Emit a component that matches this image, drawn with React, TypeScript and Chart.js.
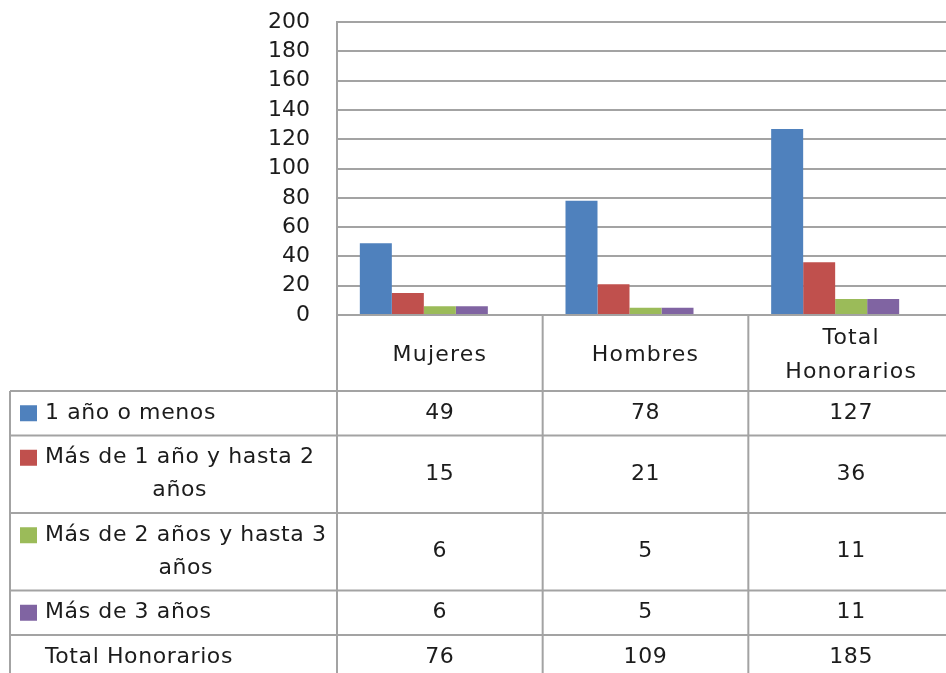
import React, { useEffect, useRef } from "react";
import { Chart, registerables } from "chart.js";

Chart.register(...registerables);

// ---- data ----
const categories = ["Mujeres", "Hombres", "Total Honorarios"];
const seriesNames = [
  "1 año o menos",
  "Más de 1 año y hasta 2 años",
  "Más de 2 años y hasta 3 años",
  "Más de 3 años",
  "Total Honorarios",
];
const unAnoOMenos = [49, 78, 127];
const masDe1Hasta2 = [15, 21, 36];
const masDe2Hasta3 = [6, 5, 11];
const masDe3 = [6, 5, 11];
const totalHonorarios = [76, 109, 185];
const yMin = 0;
const yMax = 200;
const yStep = 20;

// ---- styles ----
const seriesColors = ["#4F81BD", "#C0504D", "#9BBB59", "#8064A2", "rgba(0,0,0,0)"];
const showKey = [true, true, true, true, false];
const LINE = "#a3a3a3";
const TEXT = "#1c1c1c";
const FONT = '22px "DejaVu Sans"';

function wrap(ctx: CanvasRenderingContext2D, text: string, maxW: number): string[] {
  const words = text.split(" ");
  const lines: string[] = [];
  let cur = "";
  for (const w of words) {
    const t = cur ? cur + " " + w : w;
    if (ctx.measureText(t).width > maxW && cur) {
      lines.push(cur);
      cur = w;
    } else cur = t;
  }
  if (cur) lines.push(cur);
  return lines;
}

const tablePlugin = {
  id: "dataTable",
  afterDraw(chart: any) {
    const ctx: CanvasRenderingContext2D = chart.ctx;
    const area = chart.chartArea;
    const xs = chart.scales.x;
    const H = chart.height;
    const W = chart.width;
    const catW = (area.right - area.left) / categories.length;
    const tableLeft = 10;
    const headerBottom = 391;
    const keyX = 20;
    const textX = 45;
    const labelMax = 288;

    ctx.save();
    ctx.font = FONT;
    (ctx as any).letterSpacing = "0.6px";

    // compute rows
    const rowLines = seriesNames.map((n) => wrap(ctx, n, labelMax));
    const rowTops: number[] = [];
    let y = headerBottom;
    rowLines.forEach((l) => {
      rowTops.push(y);
      y += l.length > 1 ? 77.5 : 44.5;
    });

    // lines
    ctx.strokeStyle = LINE;
    ctx.lineWidth = 2;
    ctx.beginPath();
    ctx.moveTo(area.left, area.bottom);
    ctx.lineTo(area.left, H);
    categories.forEach((_, i) => {
      const x = xs.getPixelForValue(i) + catW / 2;
      ctx.moveTo(x, area.bottom);
      ctx.lineTo(x, H);
    });
    rowTops.forEach((t) => {
      ctx.moveTo(tableLeft, t);
      ctx.lineTo(W, t);
    });
    ctx.moveTo(tableLeft, headerBottom);
    ctx.lineTo(tableLeft, H);
    ctx.stroke();

    // header
    ctx.fillStyle = TEXT;
    ctx.textAlign = "center";
    ctx.textBaseline = "middle";
    (ctx as any).letterSpacing = "1.2px";
    const headerMid = (area.bottom + headerBottom) / 2 + 2;
    categories.forEach((c, i) => {
      const lines = wrap(ctx, c, 170);
      const cx = xs.getPixelForValue(i);
      const lh = 34;
      lines.forEach((ln, k) => {
        ctx.fillText(ln, cx, headerMid + (k - (lines.length - 1) / 2) * lh);
      });
    });

    // rows
    const values = [unAnoOMenos, masDe1Hasta2, masDe2Hasta3, masDe3, totalHonorarios];
    (ctx as any).letterSpacing = "0.6px";
    rowLines.forEach((lines, r) => {
      const top = rowTops[r];
      const h = lines.length > 1 ? 77.5 : 44.5;
      const mid = top + h / 2;
      const lh = 33;
      const widths = lines.map((l) => ctx.measureText(l).width);
      const blockW = Math.max(...widths);
      const cxText = textX + blockW / 2;
      ctx.textAlign = "center";
      lines.forEach((ln, k) => {
        const ly = mid + (k - (lines.length - 1) / 2) * lh;
        ctx.fillStyle = TEXT;
        ctx.fillText(ln, cxText, ly);
        if (k === 0 && showKey[r]) {
          ctx.fillStyle = seriesColors[r];
          ctx.fillRect(keyX, ly - 8, 17, 16);
        }
      });
      ctx.fillStyle = TEXT;
      values[r].forEach((v, i) => {
        ctx.fillText(String(v), xs.getPixelForValue(i), mid);
      });
    });
    ctx.restore();
  },
};

export default function App() {
  const ref = useRef<HTMLCanvasElement>(null);
  useEffect(() => {
    document.body.style.margin = "0";
    const data = [unAnoOMenos, masDe1Hasta2, masDe2Hasta3, masDe3, totalHonorarios];
    const chart = new Chart(ref.current!, {
      type: "bar",
      data: {
        labels: categories,
        datasets: seriesNames.map((n, i) => ({
          label: n,
          data: data[i],
          backgroundColor: seriesColors[i],
          borderWidth: 0,
          categoryPercentage: 0.778,
          barPercentage: 1,
        })),
      },
      options: {
        animation: false,
        responsive: false,
        devicePixelRatio: 1,
        layout: { padding: { top: 22, bottom: 358, left: 0, right: 0 } },
        plugins: { legend: { display: false }, tooltip: { enabled: false } },
        scales: {
          x: { display: false, offset: true, grid: { display: false } },
          y: {
            min: yMin,
            max: yMax,
            afterFit: (s: any) => {
              s.width = 337;
              s.paddingTop = 0;
              s.paddingBottom = 0;
            },
            ticks: {
              stepSize: yStep,
              autoSkip: false,
              padding: 27,
              color: TEXT,
              font: { family: "DejaVu Sans", size: 22 },
            },
            grid: { color: LINE, lineWidth: 2, drawTicks: false },
            border: { color: LINE, width: 2 },
          },
        },
      },
      plugins: [tablePlugin],
    });
    return () => chart.destroy();
  }, []);
  return (
    <div style={{ width: 946, height: 673, overflow: "hidden", position: "relative", background: "#fff" }}>
      <canvas ref={ref} width={954} height={673} style={{ display: "block" }} />
    </div>
  );
}
